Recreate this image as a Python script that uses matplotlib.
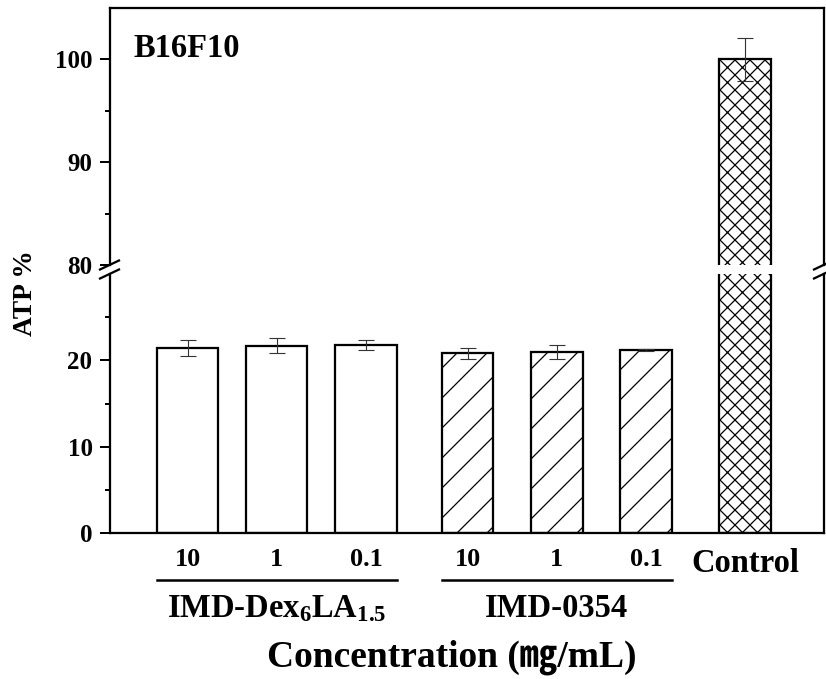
import numpy as np
import matplotlib
matplotlib.use('Agg')
import matplotlib.pyplot as plt

# ATP levels in B16F10 cells (% of control)
conc_labels = ['10', '1', '0.1', '10', '1', '0.1', 'Control']
atp = [21.4, 21.7, 21.8, 20.8, 21.0, 21.2, 100.0]
atp_err = [0.9, 0.9, 0.6, 0.6, 0.8, 0.1, 2.1]
groups = ['IMD-Dex$_{6}$LA$_{1.5}$', 'IMD-0354']

plt.rcParams['font.family'] = ['Liberation Serif', 'Noto Sans CJK KR']
plt.rcParams['font.weight'] = 'bold'
plt.rcParams['mathtext.fontset'] = 'custom'
plt.rcParams['mathtext.rm'] = 'Liberation Serif:bold'
plt.rcParams['mathtext.bf'] = 'Liberation Serif:bold'
plt.rcParams['mathtext.default'] = 'bf'
plt.rcParams['hatch.linewidth'] = 0.5

DPI = 180
fig = plt.figure(figsize=(826 / DPI, 679 / DPI), dpi=DPI)
ax_lo = fig.add_axes([110 / 826, 1 - 533 / 679, 714 / 826, 259 / 679])
ax_hi = fig.add_axes([110 / 826, 1 - 265 / 679, 714 / 826, 257 / 679])

pos = np.r_[np.arange(3), np.arange(3) + 3.14, 6.25]
widths = [0.69] * 3 + [0.58] * 4
hatches = [''] * 3 + ['//'] * 3 + ['xxxx']

for ax in (ax_lo, ax_hi):
    ax.bar(pos, atp, width=widths, color='white', edgecolor='black',
           linewidth=0.9, hatch=hatches, zorder=2)
    ax.errorbar(pos, atp, yerr=atp_err, fmt='none', ecolor='#333333',
                elinewidth=0.45, capsize=3.2, capthick=0.45, zorder=3)
    ax.set_xlim(-0.869, 7.136)
    for s in ax.spines.values():
        s.set_linewidth(0.9)
    ax.tick_params(axis='y', which='major', direction='out', length=4,
                   width=0.8, labelsize=10, pad=3)
    ax.tick_params(axis='y', which='minor', direction='out', length=2,
                   width=0.8)

ax_lo.set_ylim(0, 30)
ax_lo.set_yticks([0, 10, 20])
ax_lo.set_yticks([5, 15, 25], minor=True)
ax_lo.spines['top'].set_visible(False)
ax_lo.set_xticks(pos, conc_labels)
ax_lo.tick_params(axis='x', length=0, pad=6, labelsize=10.5)
ax_lo.get_xticklabels()[-1].set_fontsize(13)

ax_hi.set_ylim(80, 105)
ax_hi.set_yticks([80, 90, 100])
ax_hi.set_yticks([85, 95], minor=True)
ax_hi.spines['bottom'].set_visible(False)
ax_hi.set_xticks([])

# break marks on both spines
kw = dict(color='black', linewidth=0.9, clip_on=False)
for x0 in (0, 1):
    ax_hi.plot([x0 - 10 / 714, x0 + 9 / 714], [-4.5 / 257, 4.5 / 257],
               transform=ax_hi.transAxes, **kw)
    ax_lo.plot([x0 - 10 / 714, x0 + 9 / 714], [1 - 4.5 / 259, 1 + 4.5 / 259],
               transform=ax_lo.transAxes, **kw)

# group lines and names
trans = ax_lo.get_xaxis_transform()
for i, name in enumerate(groups):
    p = pos[3 * i:3 * i + 3]
    ax_lo.plot([p[0] - widths[3 * i] / 2, p[2] + widths[3 * i] / 2],
               [-47 / 259, -47 / 259], transform=trans, color='black',
               linewidth=1.0, clip_on=False)
    ax_lo.text(p[1], -84 / 259, name, transform=trans, ha='center',
               va='baseline', fontsize=13)

ax_hi.text(23 / 714, 0.844, 'B16F10', transform=ax_hi.transAxes,
           ha='left', va='center', fontsize=13)

fig.text(25 / 826, 1 - 293 / 679, 'ATP %', rotation=90, ha='center',
         va='center', fontsize=11)
fig.text(452 / 826, 1 - 667 / 679, 'Concentration (㎎/mL)', ha='center',
         va='baseline', fontsize=15)

fig.savefig('out.png', dpi=DPI)
